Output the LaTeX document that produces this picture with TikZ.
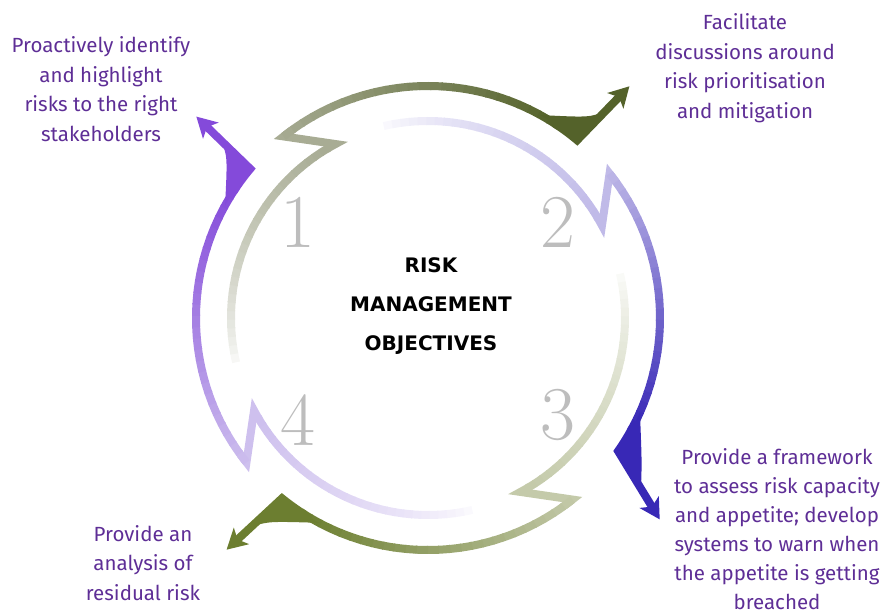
\documentclass[tikz,border=0pt]{standalone}
\usepackage{fontspec}
\usetikzlibrary{arrows.meta,calc}
\newfontfamily\goalfont{Fira Sans}
\newfontfamily\titlefont{DejaVu Sans}
\definecolor{goaltext}{RGB}{94,46,150}
\definecolor{oliveLo}{RGB}{168,172,148}
\definecolor{oliveHi}{RGB}{84,98,42}
\definecolor{blueLo}{RGB}{192,186,232}
\definecolor{blueHi}{RGB}{56,40,182}
\definecolor{sageLo}{RGB}{196,202,170}
\definecolor{sageHi}{RGB}{108,126,48}
\definecolor{violetLo}{RGB}{206,192,238}
\definecolor{violetHi}{RGB}{132,74,218}
\tikzset{
goal/.style={align=center, text=goaltext, font=\goalfont\fontsize{20.5}{29.5}\selectfont}, % purple objective texts
numlabel/.style={text=black!26, font=\fontsize{76}{76}\selectfont}, % big grey step numbers
ring/.style={line width=8pt, line cap=butt}, % every piece of the arrows
}
\begin{document}
\begin{tikzpicture}[x=1pt, y=1pt]
\useasboundingbox (0,0) rectangle (885,615);
\begin{scope}[shift={(428,297)}]
\foreach \k/\lo/\hi/\c in {0/oliveLo/oliveHi/50, 1/blueLo/blueHi/55, 2/sageLo/sageHi/51, 3/violetLo/violetHi/50}{
\begin{scope}[rotate=-90*\k]
% fading tail on the inner ring
\foreach \i in {0,...,28}{
\pgfmathsetmacro\a{193-2.5*\i}
\pgfmathsetmacro\p{100*((\i+1)/29)^0.7}
\draw[ring, \lo!\p!white] (\a:197) arc[start angle=\a, end angle=\a-2.8, radius=197pt];
}
% zigzag out to the outer ring
\draw[ring, \lo] (121:197) arc[start angle=121, end angle=118, radius=197pt] -- (128.5:232) arc[start angle=128.5, end angle=126, radius=232pt];
% outer ring, darker towards the head
\foreach \i in {0,...,25}{
\pgfmathsetmacro\s{(122.5-\c)/26}
\pgfmathsetmacro\a{128.5-\s*\i}
\pgfmathsetmacro\p{100*(\i+1)/26}
\draw[ring, \hi!\p!\lo] (\a:232) arc[start angle=\a, end angle=\a-\s-0.3, radius=232pt];
}
% flared bend and head
\fill[\hi] (\c+11:232) arc[start angle=\c+11, end angle=\c, radius=232pt] -- ($(\c:232)!0.55!(49:307)$) .. controls (\c+1:258) .. (\c+11:232) -- cycle;
\draw[ring, \hi, -{Stealth[length=20pt, width=22pt, inset=5pt]}] (\c+7:232) arc[start angle=\c+7, end angle=\c, radius=232pt] -- (49:307);
\end{scope}
}
\end{scope}

\node[numlabel] (n1) at (298,393) {1};
\node[numlabel] (n2) at (558,393) {2};
\node[numlabel] (n3) at (558,200) {3};
\node[numlabel] (n4) at (298,195) {4};

\node[font=\titlefont\bfseries\fontsize{20}{39}\selectfont, align=center] (title) at (431,309) {RISK\\MANAGEMENT\\OBJECTIVES};

\node[goal] (identify) at (101,526) {Proactively identify\\and highlight\\risks to the right\\stakeholders};
\node[goal] (discuss) at (745,547) {Facilitate\\discussions around\\risk prioritisation\\and mitigation};
\node[goal, font=\goalfont\fontsize{20.5}{29}\selectfont] (framework) at (777,86) {Provide a framework\\to assess risk capacity\\and appetite; develop\\systems to warn when\\the appetite is getting\\breached};
\node[goal] (residual) at (143,52) {Provide an\\analysis of\\residual risk};
\end{tikzpicture}
\end{document}
